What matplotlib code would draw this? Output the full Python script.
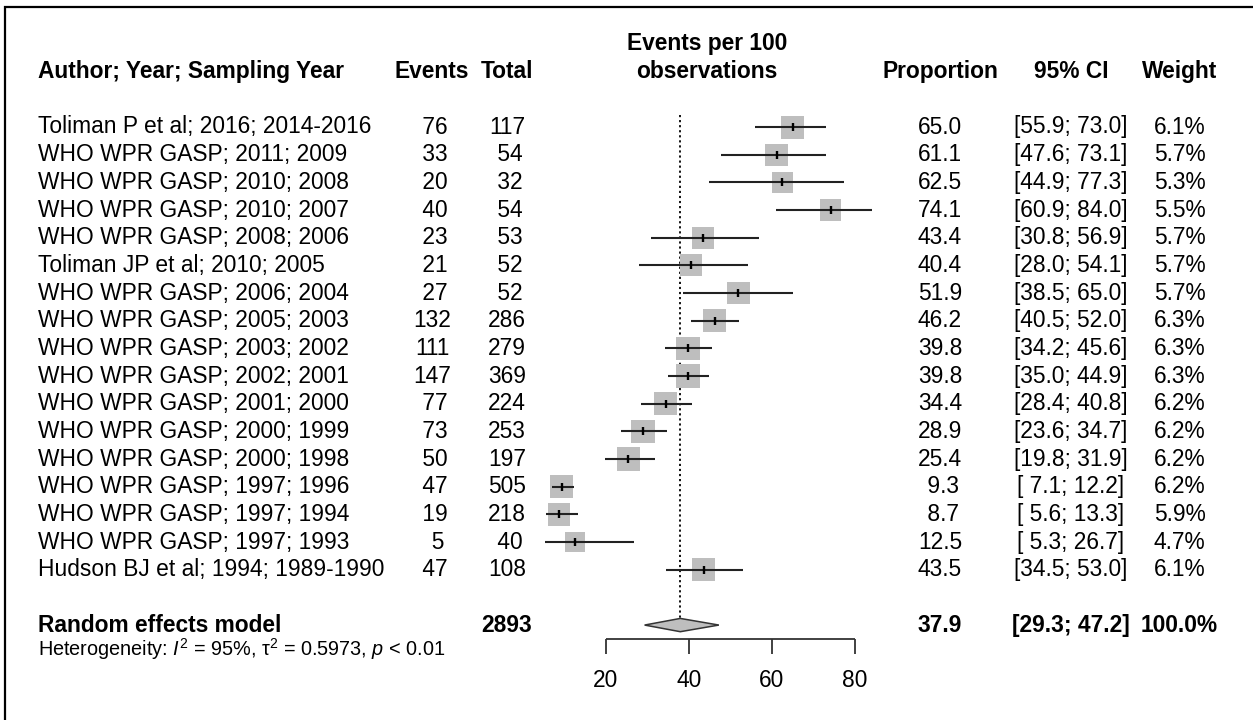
import matplotlib.pyplot as plt
import matplotlib.transforms as mtransforms
from matplotlib.patches import Polygon, Rectangle

plt.rcParams['font.family'] = ['Liberation Sans', 'DejaVu Sans']
plt.rcParams['mathtext.fontset'] = 'custom'
plt.rcParams['mathtext.rm'] = 'Liberation Sans'
plt.rcParams['mathtext.it'] = 'Liberation Sans:italic'
plt.rcParams['mathtext.bf'] = 'Liberation Sans:bold'

# study data
studies = ["Toliman P et al; 2016; 2014-2016", "WHO WPR GASP; 2011; 2009",
           "WHO WPR GASP; 2010; 2008", "WHO WPR GASP; 2010; 2007",
           "WHO WPR GASP; 2008; 2006", "Toliman JP et al; 2010; 2005",
           "WHO WPR GASP; 2006; 2004", "WHO WPR GASP; 2005; 2003",
           "WHO WPR GASP; 2003; 2002", "WHO WPR GASP; 2002; 2001",
           "WHO WPR GASP; 2001; 2000", "WHO WPR GASP; 2000; 1999",
           "WHO WPR GASP; 2000; 1998", "WHO WPR GASP; 1997; 1996",
           "WHO WPR GASP; 1997; 1994", "WHO WPR GASP; 1997; 1993",
           "Hudson BJ et al; 1994; 1989-1990"]
events = [76, 33, 20, 40, 23, 21, 27, 132, 111, 147, 77, 73, 50, 47, 19, 5, 47]
totals = [117, 54, 32, 54, 53, 52, 52, 286, 279, 369, 224, 253, 197, 505, 218, 40, 108]
prop = [65.0, 61.1, 62.5, 74.1, 43.4, 40.4, 51.9, 46.2, 39.8, 39.8, 34.4, 28.9, 25.4, 9.3, 8.7, 12.5, 43.5]
ci_low = [55.9, 47.6, 44.9, 60.9, 30.8, 28.0, 38.5, 40.5, 34.2, 35.0, 28.4, 23.6, 19.8, 7.1, 5.6, 5.3, 34.5]
ci_high = [73.0, 73.1, 77.3, 84.0, 56.9, 54.1, 65.0, 52.0, 45.6, 44.9, 40.8, 34.7, 31.9, 12.2, 13.3, 26.7, 53.0]
weights = [6.1, 5.7, 5.3, 5.5, 5.7, 5.7, 5.7, 6.3, 6.3, 6.3, 6.2, 6.2, 6.2, 6.2, 5.9, 4.7, 6.1]

# random effects summary
re_est = 37.9
re_low = 29.3
re_high = 47.2
re_total = 2893
het_text = r"Heterogeneity: $\mathit{I}^2$ = 95%, $\mathrm{\tau}^2$ = 0.5973, $\mathit{p}$ < 0.01"

axis_ticks = [20, 40, 60, 80]

W, H = 1253, 720
fig = plt.figure(figsize=(W / 100, H / 100), dpi=100)
ax = fig.add_axes([0, 0, 1, 1])

# x in proportion units (20 -> px 606, 80 -> px 855), y in row units
px_per_unit = (855 - 606) / 60
row0, row_h = 127, 27.67
ax.set_xlim(20 - 606 / px_per_unit, 20 + (W - 606) / px_per_unit)
ax.set_ylim((H - row0) / row_h, -row0 / row_h)
ax.axis('off')

# text columns: x in figure fraction, y in rows
tr = mtransforms.blended_transform_factory(fig.transFigure, ax.transData)
fs = 16.4
col_author = 38 / W
col_events = 432 / W
col_total = 507 / W
col_prop = 940 / W
col_ci = 1071 / W
col_weight = 1179.5 / W
col_plot = 707 / W

def txt(x, y, s, ha='center', bold=False, size=fs):
    ax.text(x, y, s, transform=tr, ha=ha, va='center', fontsize=size,
            fontweight='bold' if bold else 'normal')

# headers
txt(col_author, -2, "Author; Year; Sampling Year", ha='left', bold=True)
txt(col_events, -2, "Events", bold=True)
txt(col_total, -2, "Total", bold=True)
txt(col_plot, -3, "Events per 100", bold=True)
txt(col_plot, -2, "observations", bold=True)
txt(col_prop, -2, "Proportion", bold=True)
txt(col_ci, -2, "95% CI", bold=True)
txt(col_weight, -2, "Weight", bold=True)

rows = list(range(len(studies)))
for i in rows:
    txt(col_author, i, studies[i], ha='left')
    txt(col_events, i, str(events[i]).rjust(3))
    txt(col_total, i, str(totals[i]).rjust(3))
    txt(col_prop, i, f"{prop[i]:4.1f}")
    txt(col_ci, i, f"[{ci_low[i]:4.1f}; {ci_high[i]:4.1f}]")
    txt(col_weight, i, f"{weights[i]:.1f}%")

# squares sized by weight (side ~ sqrt(weight))
sq_side = [23 * 0.72 * (w / 6.1) ** 0.5 for w in weights]
ax.scatter(prop, rows, s=[v ** 2 for v in sq_side], marker='s',
           color='#bebebe', linewidths=0, zorder=2)
ax.hlines(rows, ci_low, ci_high, color='#222222', lw=1.5, zorder=3)
ax.plot(prop, rows, ls='none', marker='|', ms=6, mew=1.7, color='black', zorder=4)

# summary row
re_row = len(studies) + 1
txt(col_author, re_row, "Random effects model", ha='left', bold=True)
txt(col_total, re_row, str(re_total), bold=True)
txt(col_prop, re_row, f"{re_est:.1f}", bold=True)
txt(col_ci, re_row, f"[{re_low:.1f}; {re_high:.1f}]", bold=True)
txt(col_weight, re_row, "100.0%", bold=True)
txt(col_author, re_row + 0.85, het_text, ha='left', size=14.3)

dh = 0.24
ax.add_patch(Polygon([[re_low, re_row], [re_est, re_row - dh], [re_high, re_row],
                      [re_est, re_row + dh]], closed=True, facecolor='#bebebe',
                     edgecolor='#333333', lw=1.1, zorder=3))

# dotted line at the pooled estimate
ax.vlines(re_est, -0.45, re_row - dh, color='black', lw=1.3, ls=(0, (1.2, 1.6)), zorder=1)

# x axis
axis_row = re_row + 0.5
ax.hlines(axis_row, axis_ticks[0], axis_ticks[-1], color='#333333', lw=1.3)
ax.vlines(axis_ticks, axis_row, axis_row + 0.55, color='#333333', lw=1.3)
for t in axis_ticks:
    ax.text(t, re_row + 2, str(t), ha='center', va='center', fontsize=fs)

# outer frame
fig.add_artist(Rectangle((5 / W, -0.05), 1.1, 1 - 7 / H + 0.05, transform=fig.transFigure,
                         fill=False, edgecolor='black', lw=1.6))

fig.savefig("out.png", dpi=100)
